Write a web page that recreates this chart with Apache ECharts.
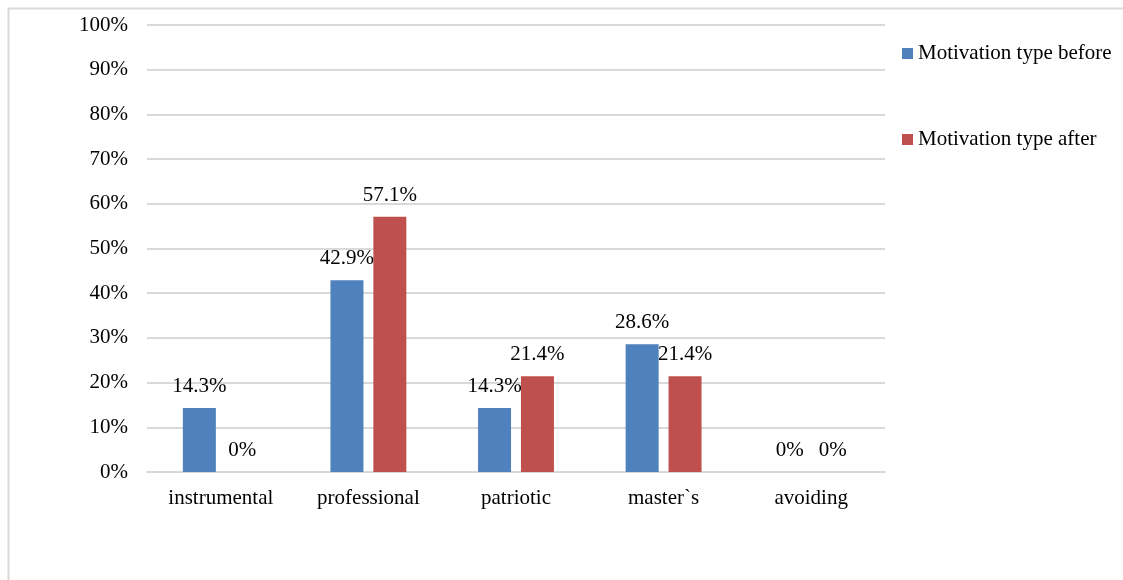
<!DOCTYPE html>
<html>
<head>
<meta charset="utf-8">
<script src="https://cdn.jsdelivr.net/npm/echarts@6/dist/echarts.min.js"></script>
<style>
  html, body { margin: 0; padding: 0; background: #fff; }
  #chart { width: 1123px; height: 580px; }
</style>
</head>
<body>
<div id="chart"></div>
<script>
// Motivation types, before and after (share of respondents, %)
const categories = ['instrumental', 'professional', 'patriotic', 'master`s', 'avoiding'];
const beforeValues = [14.3, 42.9, 14.3, 28.6, 0];
const afterValues = [0, 57.1, 21.4, 21.4, 0];
const seriesNames = ['Motivation type before', 'Motivation type after'];

const FONT = "'Liberation Serif', 'Times New Roman', serif";
const FS = 21;

function pctLabel(p) {
  return p.value + '%';
}

const chart = echarts.init(document.getElementById('chart'), null, { renderer: 'canvas' });

chart.setOption({
  animation: false,
  backgroundColor: '#ffffff',
  textStyle: { fontFamily: FONT },
  graphic: [{
    type: 'rect',
    left: 6, top: 6,
    shape: { width: 1130, height: 590 },
    style: { fill: 'none', stroke: '#d9d9d9', lineWidth: 2 },
    silent: true
  }],
  grid: { left: 147, right: 238, top: 25, bottom: 108, containLabel: false },
  legend: {
    orient: 'vertical',
    left: 897,
    top: 38,
    itemWidth: 11,
    itemHeight: 11,
    itemGap: 65,
    icon: 'rect',
    textStyle: { fontFamily: FONT, fontSize: FS, color: '#000' },
    data: seriesNames
  },
  xAxis: {
    type: 'category',
    data: categories,
    axisLine: { lineStyle: { color: '#d9d9d9', width: 2 } },
    axisTick: { show: false },
    axisLabel: { fontFamily: FONT, fontSize: FS, color: '#000', margin: 16 }
  },
  yAxis: {
    type: 'value',
    min: 0,
    max: 100,
    interval: 10,
    axisLine: { show: false },
    axisTick: { show: false },
    splitLine: { lineStyle: { color: '#d9d9d9', width: 2 } },
    axisLabel: { fontFamily: FONT, fontSize: FS, color: '#000', margin: 19, formatter: '{value}%' }
  },
  series: [
    {
      name: seriesNames[0],
      type: 'bar',
      data: beforeValues,
      barWidth: 33,
      barGap: '30%',
      itemStyle: { color: '#4f81bd' },
      label: { show: true, position: 'top', distance: 11, formatter: pctLabel,
               fontFamily: FONT, fontSize: FS, color: '#000' }
    },
    {
      name: seriesNames[1],
      type: 'bar',
      data: afterValues,
      barWidth: 33,
      itemStyle: { color: '#c0504d' },
      label: { show: true, position: 'top', distance: 11, formatter: pctLabel,
               fontFamily: FONT, fontSize: FS, color: '#000' }
    }
  ]
});
</script>
</body>
</html>
